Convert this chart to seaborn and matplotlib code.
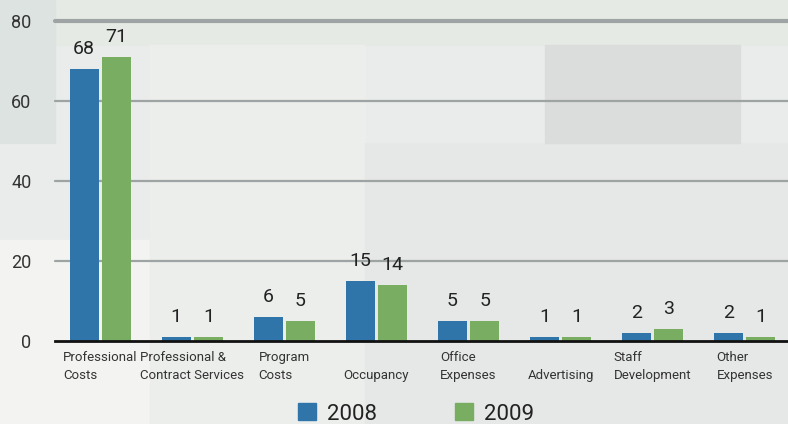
import pandas as pd
import matplotlib.pyplot as plt
import seaborn as sns
from matplotlib.patches import Rectangle, Patch

categories = ["Professional\nCosts", "Professional &\nContract Services", "Program\nCosts",
              "\nOccupancy", "Office\nExpenses", "\nAdvertising", "Staff\nDevelopment",
              "Other\nExpenses"]
years = ["2008", "2009"]
values_2008 = [68, 1, 6, 15, 5, 1, 2, 2]
values_2009 = [71, 1, 5, 14, 5, 1, 3, 1]
y_ticks = [0, 20, 40, 60, 80]

blue = "#2f75a9"
green = "#78ad62"

df = pd.DataFrame({
    "category": categories * 2,
    "year": [years[0]] * len(categories) + [years[1]] * len(categories),
    "value": values_2008 + values_2009,
})

sns.set_theme(style="white")
plt.rcParams["font.family"] = ["Roboto", "DejaVu Sans"]

W, H = 788, 424
fig = plt.figure(figsize=(W / 100, H / 100), dpi=100)
fig.patch.set_facecolor("#e9ecea")

# soft background panels
def panel(x, y, w, h, color):
    fig.patches.append(Rectangle((x / W, 1 - (y + h) / H), w / W, h / H,
                                 transform=fig.transFigure, color=color, zorder=-10))

panel(0, 0, 788, 45, "#e5eae5")
panel(0, 0, 55, 143, "#dce3e0")
panel(0, 240, 150, 184, "#f3f4f1")
panel(150, 45, 215, 379, "#eceeec")
panel(365, 143, 423, 281, "#e5e8e6")
panel(545, 45, 195, 98, "#dbdddc")

ax = fig.add_axes([55 / W, 83 / H, 733 / W, 320 / H])
ax.set_facecolor("none")

sns.barplot(data=df, x="category", y="value", hue="year", palette=[blue, green],
            width=0.7, gap=0.1, ax=ax, legend=False, zorder=3, linewidth=0,
            saturation=1)

for c in ax.containers:
    ax.bar_label(c, fmt="%d", padding=8, fontsize=14, color="#222222")

ax.set_ylim(0, 80)
ax.set_xlim(-0.49, 7.47)
ax.set_yticks(y_ticks)
ax.set_yticklabels([str(t) for t in y_ticks], fontsize=13, color="#333333")
ax.tick_params(axis="y", length=0, pad=17)
ax.tick_params(axis="x", length=0, pad=7)
ax.set_xticks(range(len(categories)))
ax.set_xticklabels(categories, fontsize=9.5, color="#333333", multialignment="left",
                   linespacing=1.5)
ax.set_xlabel("")
ax.set_ylabel("")

for t in y_ticks[1:]:
    ax.axhline(t, color="#9ea4a3", lw=3 if t == 80 else 1.6, zorder=1, clip_on=False)

for s in ["top", "right", "left"]:
    ax.spines[s].set_visible(False)
ax.spines["bottom"].set_color("#111111")
ax.spines["bottom"].set_linewidth(2)
ax.spines["bottom"].set_zorder(4)

handles = [Patch(color=blue, label=years[0]), Patch(color=green, label=years[1])]
fig.legend(handles=handles, loc="center", bbox_to_anchor=(416 / W, 10 / H), ncol=2,
           frameon=False, fontsize=16, handlelength=0.8, handleheight=0.8,
           handletextpad=0.5, columnspacing=3.5, labelcolor="#222222",
           borderpad=0)

fig.savefig("out.png", dpi=100, facecolor=fig.get_facecolor())
